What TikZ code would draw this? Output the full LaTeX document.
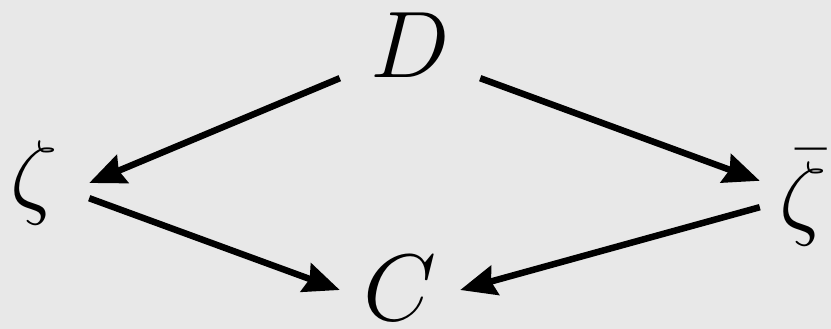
\documentclass[tikz,border=0pt]{standalone}
\usetikzlibrary{arrows.meta}
\definecolor{bg}{RGB}{232,232,232}
\newcommand{\bigmath}[2]{\makebox[0pt]{\smash{\raisebox{-#2}{\scalebox{3.8}{\Huge$#1$}}}}}
\begin{document}
\begin{tikzpicture}[x=1pt,y=-1pt,
  lbl/.style={inner sep=0pt},
  arr/.style={line width=6.5pt,-{Stealth[length=36pt,width=30pt,inset=4pt]}}]
\fill[bg] (0,0) rectangle (831,329);
\useasboundingbox (0,0) rectangle (831,329);
\node[lbl,minimum width=140pt,minimum height=64pt] (D) at (410,46) {\bigmath{D}{32pt}};
\node[lbl,minimum width=110pt,minimum height=30pt] (z) at (34,183) {\bigmath{\zeta}{24pt}};
\node[lbl,minimum width=86pt,minimum height=26pt] (zb) at (803,194) {\bigmath{\bar\zeta}{33pt}};
\node[lbl,minimum width=120pt,minimum height=10pt] (C) at (400,290) {\bigmath{C}{30pt}};
\draw[arr] (D.south west) -- (z.east);
\draw[arr] (D.south east) -- (zb.north west);
\draw[arr] (z.south east) -- (C.west);
\draw[arr] (zb.south west) -- (C.east);
\end{tikzpicture}
\end{document}
